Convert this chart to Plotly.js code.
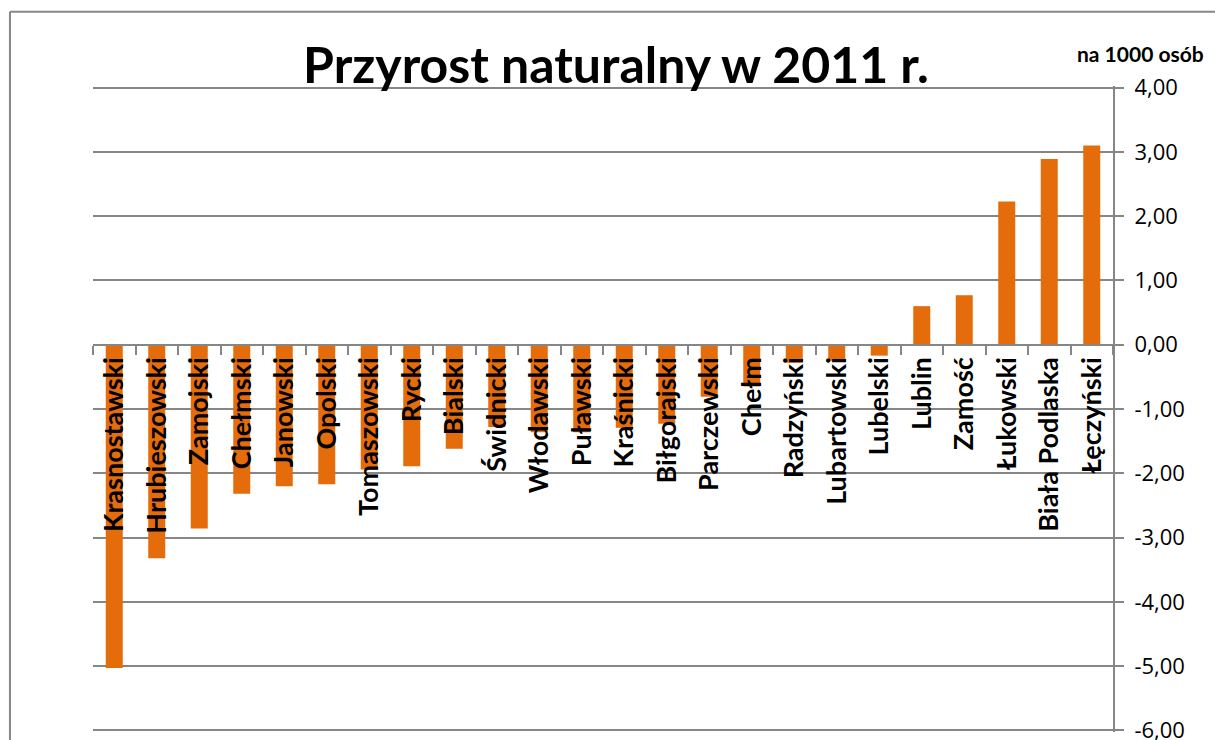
<!DOCTYPE html>
<html>
<head>
<meta charset="utf-8">
<script src="https://cdn.plot.ly/plotly-3.0.1.min.js"></script>
<style>
  html, body { margin: 0; padding: 0; background: #fff; }
  #myDiv { width: 1215px; height: 740px; }
</style>
</head>
<body>
<div id="myDiv"></div>
<script>
// powiaty / miasta, sorted by value
var powiaty = ['Krasnostawski', 'Hrubieszowski', 'Zamojski', 'Chełmski', 'Janowski', 'Opolski',
  'Tomaszowski', 'Rycki', 'Bialski', 'Świdnicki', 'Włodawski', 'Puławski', 'Kraśnicki',
  'Biłgorajski', 'Parczewski', 'Chełm', 'Radzyński', 'Lubartowski', 'Lubelski', 'Lublin',
  'Zamość', 'Łukowski', 'Biała Podlaska', 'Łęczyński'];
var przyrost = [-5.03, -3.32, -2.86, -2.32, -2.20, -2.17, -1.94, -1.89, -1.62, -1.28, -1.36, -1.36, -1.29,
  -1.23, -0.81, -0.65, -0.28, -0.25, -0.17, 0.60, 0.77, 2.23, 2.89, 3.10];
var yTickVals = [-6, -5, -4, -3, -2, -1, 0, 1, 2, 3, 4];
var yTickText = ['-6,00', '-5,00', '-4,00', '-3,00', '-2,00', '-1,00', '0,00', '1,00', '2,00', '3,00', '4,00'];

var data = [{
  type: 'bar',
  x: powiaty,
  y: przyrost,
  marker: { color: '#E46C0A' },
  hoverinfo: 'x+y'
}];

var layout = {
  width: 1215,
  height: 740,
  margin: { l: 93, r: 102, t: 86, b: 8 },
  paper_bgcolor: '#fff',
  plot_bgcolor: '#fff',
  showlegend: false,
  bargap: 0.6,
  title: {
    text: '<b>Przyrost naturalny w 2011 r.</b>',
    font: { family: 'Lato, sans-serif', size: 50, color: '#000' },
    xref: 'container', x: 0.507,
    yref: 'container', y: 0.912, yanchor: 'middle'
  },
  xaxis: {
    type: 'category',
    anchor: 'free',
    position: 0.5985,
    showline: true,
    linecolor: '#868686',
    linewidth: 2,
    ticks: 'outside',
    tickson: 'boundaries',
    ticklen: 9,
    tickwidth: 2,
    tickcolor: '#868686',
    tickangle: -90,
    tickfont: { family: 'Lato, sans-serif', size: 27, color: '#000', weight: 'bold' },
    showgrid: false,
    zeroline: false,
    fixedrange: true
  },
  yaxis: {
    side: 'right',
    range: [-6.025, 4.025],
    tickvals: yTickVals,
    ticktext: yTickText,
    tickfont: { family: 'Open Sans, sans-serif', size: 22, color: '#000' },
    ticks: 'outside',
    ticklen: 9,
    tickwidth: 2,
    tickcolor: '#868686',
    ticklabelstandoff: 6,
    ticklabeloverflow: 'allow',
    showline: true,
    linecolor: '#868686',
    linewidth: 2,
    gridcolor: '#868686',
    gridwidth: 2,
    zeroline: false,
    fixedrange: true
  },
  annotations: [{
    text: '<b>na 1000 osób</b>',
    xref: 'paper', yref: 'paper',
    x: 1.027, y: 1.05,
    xanchor: 'center', yanchor: 'middle',
    showarrow: false,
    font: { family: 'Lato, sans-serif', size: 21, color: '#000' }
  }],
  shapes: [
    { type: 'line', xref: 'paper', yref: 'paper', x0: -0.0814, x1: 1.2, y0: 1.115, y1: 1.115,
      line: { color: '#868686', width: 2 } },
    { type: 'line', xref: 'paper', yref: 'paper', x0: -0.0814, x1: -0.0814, y0: -0.1, y1: 1.115,
      line: { color: '#868686', width: 2 } }
  ]
};

Plotly.newPlot('myDiv', data, layout, { displayModeBar: false, staticPlot: true });
</script>
</body>
</html>
